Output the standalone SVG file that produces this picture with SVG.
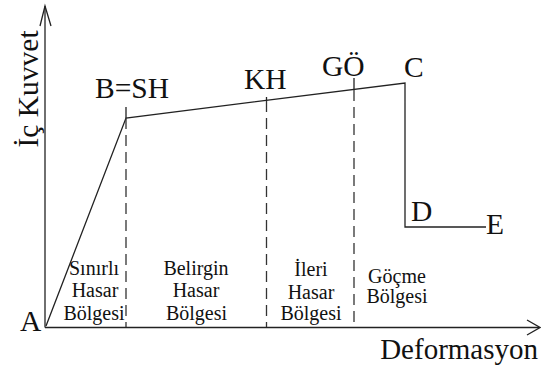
<svg xmlns="http://www.w3.org/2000/svg" width="541" height="366" viewBox="0 0 541 366">
  <style>
    .big { font-family: 'Liberation Serif', 'Times New Roman', serif; font-size: 29.5px; fill: #111; }
    .small { font-family: 'Liberation Serif', 'Times New Roman', serif; font-size: 20px; fill: #111; text-anchor: middle; }
    .ln { stroke: #222; stroke-width: 1.3; fill: none; }
    .dash { stroke: #333; stroke-width: 1.3; fill: none; stroke-dasharray: 11 6; }
  </style>

  <!-- axes -->
  <g id="axes">
    <line class="ln" x1="45" y1="6" x2="45" y2="327.5"/>
    <polyline class="ln" points="40,26 45,6 51,26"/>
    <line class="ln" x1="45" y1="327.5" x2="539" y2="327.5"/>
    <polyline class="ln" points="527,320 540,327.5 527,335"/>
  </g>

  <!-- connectors: capacity curve and region boundaries -->
  <g id="connectors">
    <polyline class="ln" points="46,326 126,118 405,83 405,227 486,227"/>
    <line class="ln" x1="126" y1="107" x2="126" y2="118"/>
    <line class="dash" x1="126" y1="118" x2="126" y2="327"/>
    <line class="ln" x1="266.5" y1="97" x2="266.5" y2="101"/>
    <line class="dash" x1="266.5" y1="101" x2="266.5" y2="327"/>
    <line class="ln" x1="354" y1="78" x2="354" y2="90"/>
    <line class="dash" x1="354" y1="90" x2="354" y2="327"/>
  </g>

  <!-- point labels -->
  <g id="node-A"><text class="big" x="20" y="331">A</text></g>
  <g id="node-B"><text class="big" x="95" y="97.5">B=SH</text></g>
  <g id="node-KH"><text class="big" x="244" y="89">KH</text></g>
  <g id="node-GO"><text class="big" x="322" y="75.5">GÖ</text></g>
  <g id="node-C"><text class="big" x="404" y="77">C</text></g>
  <g id="node-D"><text class="big" x="411" y="221">D</text></g>
  <g id="node-E"><text class="big" x="486" y="234">E</text></g>

  <!-- axis titles -->
  <g id="axis-y-title"><text class="big" transform="translate(38,89) rotate(-90)" text-anchor="middle">İç Kuvvet</text></g>
  <g id="axis-x-title"><text class="big" x="538" y="359" text-anchor="end" style="font-size:29px">Deformasyon</text></g>

  <!-- damage regions -->
  <g id="region-1">
    <text class="small" x="94" y="274.5">Sınırlı</text>
    <text class="small" x="95" y="297">Hasar</text>
    <text class="small" x="94" y="320">Bölgesi</text>
  </g>
  <g id="region-2">
    <text class="small" x="196" y="274.5">Belirgin</text>
    <text class="small" x="196" y="297">Hasar</text>
    <text class="small" x="196.5" y="320">Bölgesi</text>
  </g>
  <g id="region-3">
    <text class="small" x="311" y="276">İleri</text>
    <text class="small" x="311" y="299">Hasar</text>
    <text class="small" x="311" y="320">Bölgesi</text>
  </g>
  <g id="region-4">
    <text class="small" x="397" y="283">Göçme</text>
    <text class="small" x="397" y="303">Bölgesi</text>
  </g>
</svg>
